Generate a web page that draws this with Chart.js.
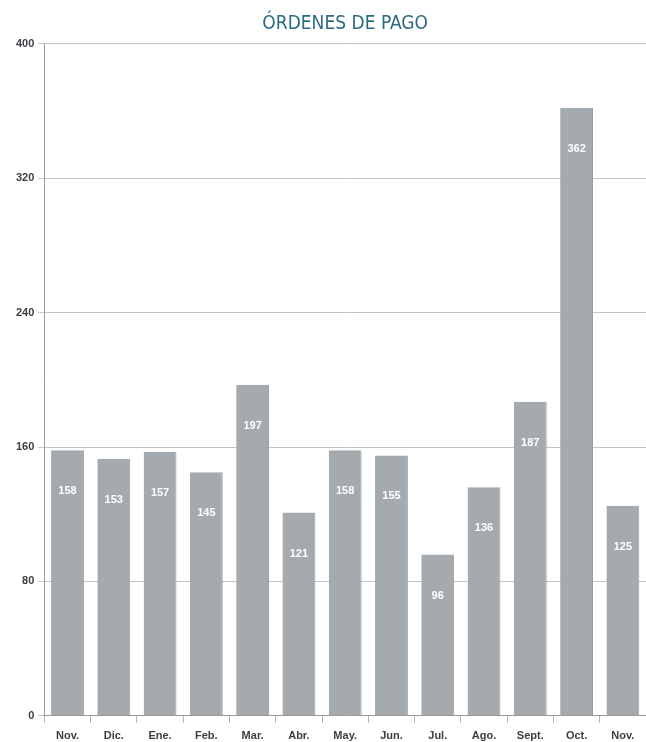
<!DOCTYPE html>
<html>
<head>
<meta charset="utf-8">
<script src="https://cdn.jsdelivr.net/npm/chart.js@4/dist/chart.umd.min.js"></script>
<style>
  html, body { margin: 0; padding: 0; background: #fff; }
  #wrap { width: 646px; height: 742px; }
</style>
</head>
<body>
<div id="wrap"><canvas id="ordenesChart"></canvas></div>
<script>
const months = ['Nov.', 'Dic.', 'Ene.', 'Feb.', 'Mar.', 'Abr.', 'May.', 'Jun.', 'Jul.', 'Ago.', 'Sept.', 'Oct.', 'Nov.'];
const ordenes = [158, 153, 157, 145, 197, 121, 158, 155, 96, 136, 187, 362, 125];
const yTicks = [0, 80, 160, 240, 320, 400];

// white numbers inside each bar, a bit below the top
const barLabels = {
    id: 'barLabels',
    afterDatasetsDraw(chart) {
        const ctx = chart.ctx;
        const meta = chart.getDatasetMeta(0);
        ctx.save();
        ctx.fillStyle = '#ffffff';
        ctx.font = 'bold 11px "Liberation Sans", Arial, sans-serif';
        ctx.textAlign = 'center';
        ctx.textBaseline = 'middle';
        meta.data.forEach((bar, i) => {
            const h = bar.base - bar.y;
            ctx.fillText(String(ordenes[i]), bar.x, bar.y + Math.min(38, h * 0.35) + 3);
        });
        ctx.restore();
    }
};

const ctx = document.getElementById('ordenesChart').getContext('2d');

new Chart(ctx, {
    type: 'bar',
    data: {
        labels: months,
        datasets: [{
            data: ordenes,
            backgroundColor: '#a4aaae',
            borderColor: '#979ea2',
            borderWidth: { left: 0, right: 1, top: 0, bottom: 0 },
            barPercentage: 0.71,
            categoryPercentage: 1
        }]
    },
    options: {
        responsive: true,
        maintainAspectRatio: false,
        animation: false,
        layout: { padding: { left: 12, right: -6, top: 4, bottom: -8 } },
        plugins: {
            legend: { display: false },
            tooltip: { enabled: false },
            title: {
                display: true,
                fullSize: false,
                text: 'ÓRDENES DE PAGO',
                color: '#2b6b82',
                font: { family: '"Liberation Sans Narrow", "DejaVu Sans Condensed", sans-serif', size: 19, weight: 'normal' },
                padding: { top: 9, bottom: 8 }
            }
        },
        scales: {
            x: {
                grid: {
                    offset: true,
                    drawOnChartArea: false,
                    drawTicks: true,
                    tickLength: 7,
                    color: '#b8b8b8'
                },
                border: { color: '#9a9a9a' },
                ticks: {
                    color: '#3a3f44',
                    font: { family: '"Liberation Sans", Arial, sans-serif', size: 11, weight: 'bold' },
                    padding: 7
                }
            },
            y: {
                min: 0,
                max: 400,
                afterBuildTicks(axis) {
                    axis.ticks = yTicks.map(v => ({ value: v }));
                },
                grid: {
                    color: '#c4c4c4',
                    drawTicks: true,
                    tickLength: 6
                },
                border: { color: '#9a9a9a' },
                ticks: {
                    color: '#3a3f44',
                    font: { family: '"Liberation Sans", Arial, sans-serif', size: 11, weight: 'bold' },
                    padding: 4
                }
            }
        }
    },
    plugins: [barLabels]
});
</script>
</body>
</html>
